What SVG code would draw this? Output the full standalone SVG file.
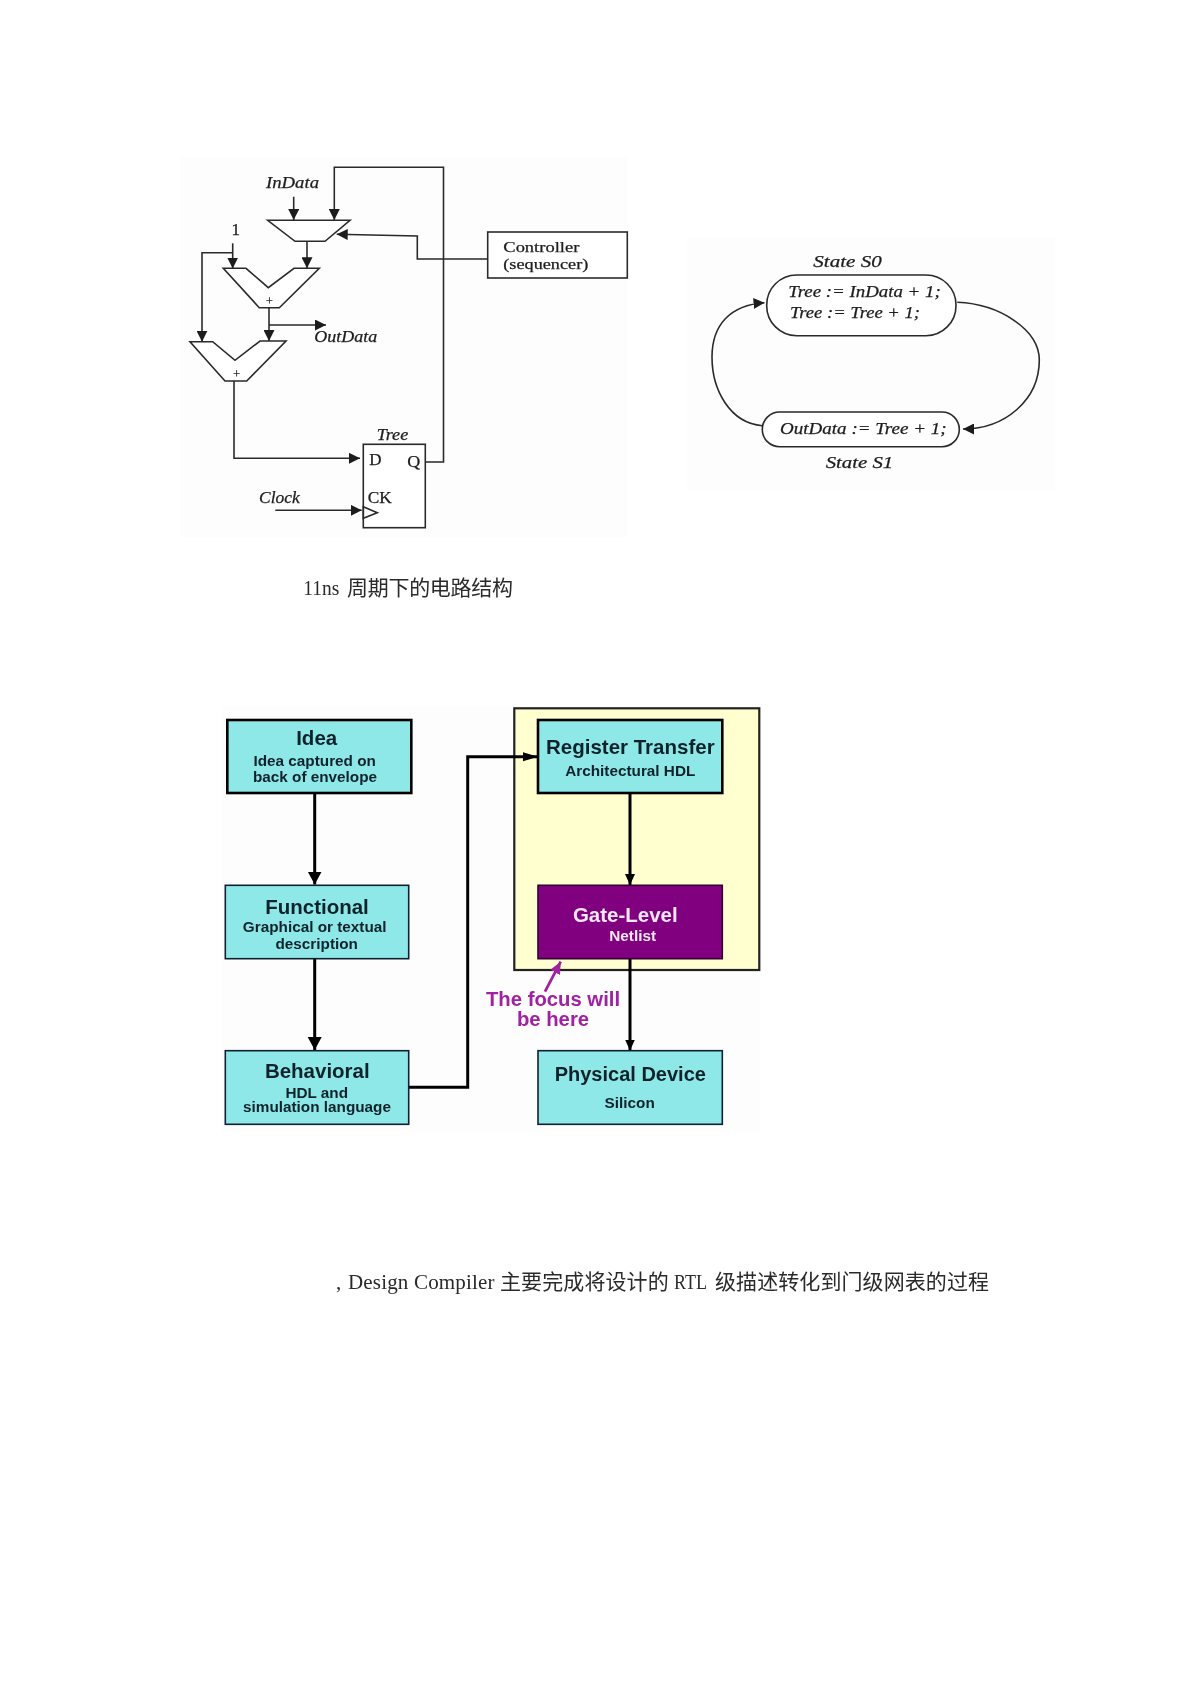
<svg xmlns="http://www.w3.org/2000/svg" width="1191" height="1685" viewBox="0 0 1191 1685">
<defs>
<style>
.bg{fill:#fdfdfd;stroke:none}
.w{fill:none;stroke:#2a2a2a;stroke-width:1.6}
.sh{fill:#fff;stroke:#2a2a2a;stroke-width:1.6}
.s{font-family:"Liberation Serif",serif;fill:#1c1c1c;stroke:#1c1c1c;stroke-width:.25;font-size:17px}
.sm{font-size:15px}
.i{font-style:italic}
.cn{font-family:"Liberation Serif","Noto Sans CJK SC",sans-serif;fill:#2a2a2a;font-size:21px}
.box{fill:#8ee8e8;stroke:#102030;stroke-width:1.6}
.thick{stroke-width:2.6;stroke:#000}
.a{font-family:"Liberation Sans",sans-serif;font-weight:bold;text-anchor:middle;fill:#10242c}
.t{font-size:20.5px}
.u{font-size:15.3px}
.w2{fill:#f5e8f5}
.c{fill:none;stroke:#000;stroke-width:3}
.p{font-family:"Liberation Sans",sans-serif;font-weight:bold;text-anchor:middle;fill:#a020a0;font-size:20.3px}
</style>
<filter id="soft" filterUnits="userSpaceOnUse" x="0" y="0" width="1191" height="1685"><feGaussianBlur stdDeviation="0.45"/></filter>
<marker id="h" markerUnits="userSpaceOnUse" markerWidth="12" markerHeight="11" refX="11" refY="5.5" orient="auto"><path d="M0 0L11 5.5L0 11z" fill="#1c1c1c"/></marker>
<marker id="b" markerUnits="userSpaceOnUse" markerWidth="14" markerHeight="15" refX="13" refY="7" orient="auto"><path d="M0 0L13 7L0 14z" fill="#000"/></marker>
<marker id="m" markerUnits="userSpaceOnUse" markerWidth="12" markerHeight="11" refX="11" refY="5" orient="auto"><path d="M0 0L11 5L0 10z" fill="#000"/></marker>
<marker id="l" markerUnits="userSpaceOnUse" markerWidth="16" markerHeight="10" refX="15" refY="4.5" orient="auto"><path d="M0 0L15 4.5L0 9z" fill="#000"/></marker>
<marker id="v" markerUnits="userSpaceOnUse" markerWidth="13" markerHeight="12" refX="12" refY="5.5" orient="auto"><path d="M0 0L12 5.5L0 11z" fill="#a020a0"/></marker>
</defs>
<rect width="1191" height="1685" fill="#fff"/>
<rect class="bg" x="180" y="157" width="447" height="380"/>
<rect class="bg" x="687" y="237" width="368" height="253"/>
<rect class="bg" x="222" y="706" width="538" height="426"/>

<g filter="url(#soft)">
<g id="yellow-panel"><rect x="514.3" y="708.3" width="245" height="261.7" fill="#ffffd0" stroke="#222" stroke-width="2.2"/></g>

<g id="connectors">
<path class="w" d="M425.3 462H443.5V167.3H334.3V220" marker-end="url(#h)"/>
<path class="w" d="M293.7 196.7V220" marker-end="url(#h)"/>
<path class="w" d="M487.7 259H417.3V236L336.7 234.3" marker-end="url(#h)"/>
<path class="w" d="M307 241.3V268.3" marker-end="url(#h)"/>
<path class="w" d="M232.7 243.3V268.5" marker-end="url(#h)"/>
<path class="w" d="M232.7 252.7H202V341.7" marker-end="url(#h)"/>
<path class="w" d="M269 307.7V341" marker-end="url(#h)"/>
<path class="w" d="M269 325H326" marker-end="url(#h)"/>
<path class="w" d="M234 381V458.3H360" marker-end="url(#h)"/>
<path class="w" d="M275.3 510.3H361.7" marker-end="url(#h)"/>
<path class="w" d="M957.3 302.3C1000 304 1039.3 330 1039.3 360C1039.3 400 1005 429 963 429" marker-end="url(#h)"/>
<path class="w" d="M762.3 425.7C730 423 712 390 712 357C712 325 730 305 764.5 302.7" marker-end="url(#h)"/>
<path class="c" d="M314.7 793V884.5" marker-end="url(#b)"/>
<path class="c" d="M314.7 958.7V1050" marker-end="url(#b)"/>
<path class="c" d="M408.7 1087.3H467.7V756.7H538" stroke-width="2.6" marker-end="url(#l)"/>
<path class="c" d="M630 793V885" marker-end="url(#m)"/>
<path class="c" d="M630 958.7V1050.5" marker-end="url(#m)"/>
<path d="M545 991.7L560.7 961.7" fill="none" stroke="#a020a0" stroke-width="2.8" marker-end="url(#v)"/>
</g>

<g id="mux"><polygon class="sh" points="267.7,220.3 350,220.3 325,241.3 295,241.3"/></g>
<g id="adder1"><polygon class="sh" points="223.3,268.3 246,268.3 268.3,287.7 294,268.3 319.3,268.3 279.3,307.7 259.3,307.7"/><text class="s" x="269.3" y="305" style="font-size:12px" text-anchor="middle">+</text></g>
<g id="adder2"><polygon class="sh" points="190,341.7 212.7,341.7 235,360.3 260,341 286,341 246.7,381 225,381"/><text class="s" x="236.7" y="378" style="font-size:12px" text-anchor="middle">+</text></g>
<g id="controller"><rect class="sh" x="487.7" y="232" width="139.6" height="46"/>
<text class="s sm" x="503.3" y="251.5" textLength="76" lengthAdjust="spacingAndGlyphs">Controller</text>
<text class="s sm" x="503.3" y="268.5" textLength="85" lengthAdjust="spacingAndGlyphs">(sequencer)</text></g>
<g id="register"><rect class="sh" x="363.3" y="444.3" width="62" height="83.4"/>
<polygon class="w" points="363.3,506.7 377.3,512.7 363.3,518.3"/>
<text class="s" x="369.3" y="465">D</text><text class="s" x="407.3" y="466.5" textLength="13" lengthAdjust="spacingAndGlyphs">Q</text><text class="s" x="367.7" y="503.3" textLength="24" lengthAdjust="spacingAndGlyphs">CK</text></g>
<g id="labels-circuit">
<text class="s i" x="266" y="188.3" textLength="53" lengthAdjust="spacingAndGlyphs">InData</text>
<text class="s" x="235.7" y="235" text-anchor="middle">1</text>
<text class="s i" x="314.3" y="342.3" textLength="63" lengthAdjust="spacingAndGlyphs">OutData</text>
<text class="s i" x="376.7" y="440" textLength="31.5" lengthAdjust="spacingAndGlyphs">Tree</text>
<text class="s i" x="259" y="503.3" textLength="40.7" lengthAdjust="spacingAndGlyphs">Clock</text>
</g>
<g id="caption-circuit"><text class="cn" x="303.3" y="595" textLength="36" lengthAdjust="spacingAndGlyphs">11ns</text><text class="cn" x="347" y="595" textLength="166" lengthAdjust="spacing">周期下的电路结构</text></g>

<g id="state-s0"><rect class="sh" x="766.7" y="275" width="189.3" height="60.7" rx="30" ry="30"/>
<text class="s i" x="813.3" y="266.7" textLength="68.4" lengthAdjust="spacingAndGlyphs">State S0</text>
<text class="s i" x="788.3" y="297.3" textLength="152.4" lengthAdjust="spacingAndGlyphs">Tree := InData + 1;</text>
<text class="s i" x="790" y="318.3" textLength="130" lengthAdjust="spacingAndGlyphs">Tree := Tree + 1;</text></g>
<g id="state-s1"><rect class="sh" x="762.3" y="412" width="197" height="34.7" rx="17.3" ry="17.3"/>
<text class="s i" x="780" y="434.3" textLength="166.7" lengthAdjust="spacingAndGlyphs">OutData := Tree + 1;</text>
<text class="s i" x="825.7" y="468.3" textLength="67.6" lengthAdjust="spacingAndGlyphs">State S1</text></g>

<g id="idea"><rect class="box thick" x="227.3" y="720" width="184" height="73"/>
<text class="a t" x="316.7" y="745">Idea</text><text class="a u" x="314.7" y="765.7">Idea captured on</text><text class="a u" x="315" y="781.7">back of envelope</text></g>
<g id="functional"><rect class="box" x="225.3" y="885.3" width="183.4" height="73.4"/>
<text class="a t" x="317" y="914">Functional</text><text class="a u" x="314.7" y="932.3">Graphical or textual</text><text class="a u" x="316.7" y="949">description</text></g>
<g id="behavioral"><rect class="box" x="225.3" y="1050.7" width="183.4" height="73.6"/>
<text class="a t" x="317.3" y="1078.3">Behavioral</text><text class="a u" x="316.7" y="1097.7">HDL and</text><text class="a u" x="317" y="1111.7">simulation language</text></g>
<g id="register-transfer"><rect class="box thick" x="538" y="720" width="184.3" height="73"/>
<text class="a t" x="630.3" y="754.3">Register Transfer</text><text class="a u" x="630.3" y="776">Architectural HDL</text></g>
<g id="gate-level"><rect x="538" y="885.3" width="184.3" height="73.4" fill="#800080" stroke="#300030" stroke-width="1.6"/>
<text class="a t w2" x="625.3" y="921.7" style="fill:#f5e8f5">Gate-Level</text><text class="a u w2" x="632.7" y="941.3" style="fill:#f5e8f5">Netlist</text></g>
<g id="physical-device"><rect class="box" x="538" y="1050.7" width="184.3" height="73.6"/>
<text class="a t" x="630.3" y="1081" style="font-size:20px">Physical Device</text><text class="a u" x="629.7" y="1108.3">Silicon</text></g>
<g id="focus-note"><text class="p" x="553" y="1006">The focus will</text><text class="p" x="553" y="1025.7">be here</text></g>

<g id="bottom-line">
<text class="cn" x="336" y="1289">,</text>
<text class="cn" x="348" y="1289" textLength="146.5" lengthAdjust="spacing">Design Compiler</text>
<text class="cn" x="500" y="1289" textLength="168.7" lengthAdjust="spacing">主要完成将设计的</text>
<text class="cn" x="674" y="1289" textLength="33" lengthAdjust="spacingAndGlyphs">RTL</text>
<text class="cn" x="715" y="1289" textLength="274" lengthAdjust="spacing">级描述转化到门级网表的过程</text>
</g>
</g>
</svg>
